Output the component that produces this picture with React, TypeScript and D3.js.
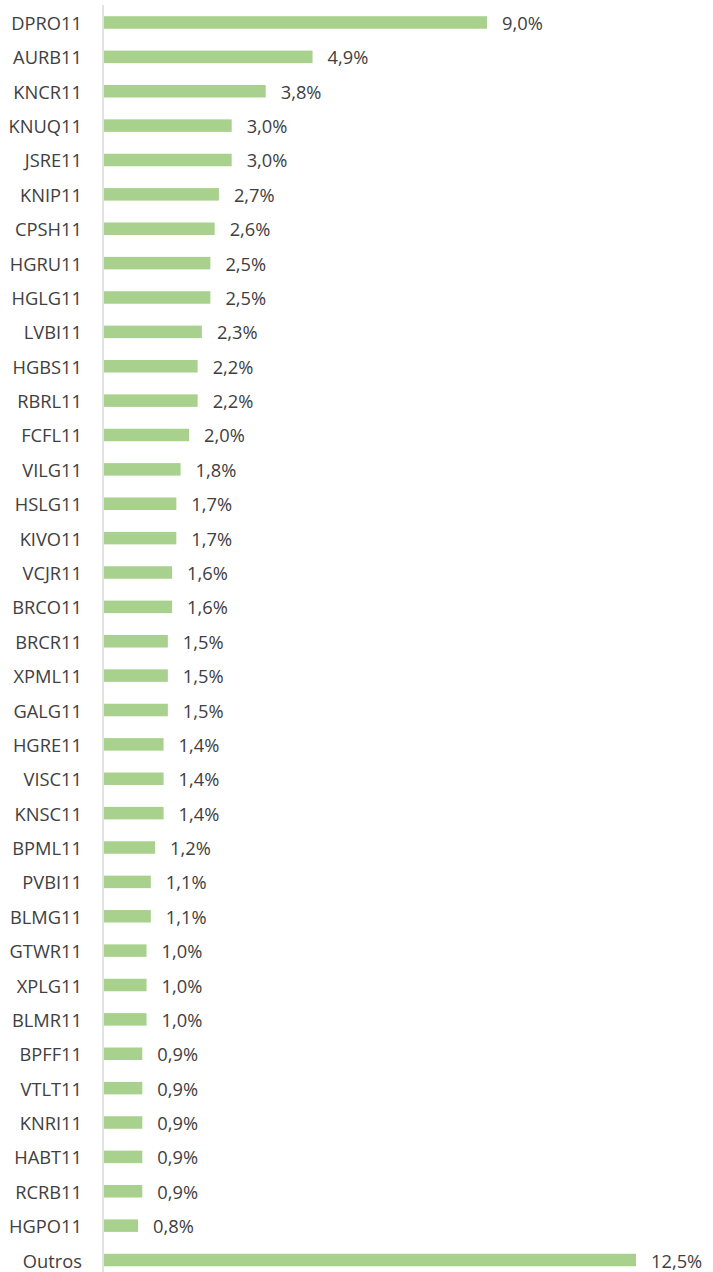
import React from 'react';
import { scaleBand, scaleLinear } from 'd3';

const WIDTH = 713;
const HEIGHT = 1272;

const tickers = [
  'DPRO11', 'AURB11', 'KNCR11', 'KNUQ11', 'JSRE11', 'KNIP11', 'CPSH11', 'HGRU11',
  'HGLG11', 'LVBI11', 'HGBS11', 'RBRL11', 'FCFL11', 'VILG11', 'HSLG11', 'KIVO11',
  'VCJR11', 'BRCO11', 'BRCR11', 'XPML11', 'GALG11', 'HGRE11', 'VISC11', 'KNSC11',
  'BPML11', 'PVBI11', 'BLMG11', 'GTWR11', 'XPLG11', 'BLMR11', 'BPFF11', 'VTLT11',
  'KNRI11', 'HABT11', 'RCRB11', 'HGPO11', 'Outros'
];

const weights = [
  9.0, 4.9, 3.8, 3.0, 3.0, 2.7, 2.6, 2.5,
  2.5, 2.3, 2.2, 2.2, 2.0, 1.8, 1.7, 1.7,
  1.6, 1.6, 1.5, 1.5, 1.5, 1.4, 1.4, 1.4,
  1.2, 1.1, 1.1, 1.0, 1.0, 1.0, 0.9, 0.9,
  0.9, 0.9, 0.9, 0.8, 12.5
];

const BAR_COLOR = '#a9d18e';
const TEXT_COLOR = '#404040';
const FONT = '"Open Sans", sans-serif';
const FONT_SIZE = 18.3;

const fmt = (v: number) => v.toFixed(1).replace('.', ',') + '%';

export default function App() {
  const x = scaleLinear().domain([0, 12.5]).range([104, 636]);
  const y = scaleBand<string>()
    .domain(tickers)
    .range([5.3, 1277.2])
    .paddingInner(0.636)
    .paddingOuter(0.318);

  return (
    <svg
      width={WIDTH}
      height={HEIGHT}
      style={{ position: 'absolute', left: 0, top: 0, background: '#fff' }}
      fontFamily={FONT}
    >
      {tickers.map((t, i) => {
        const yy = y(t) as number;
        const cy = yy + y.bandwidth() / 2;
        return (
          <g key={t}>
            <rect
              x={x(0)}
              y={yy}
              width={x(weights[i]) - x(0)}
              height={y.bandwidth()}
              fill={BAR_COLOR}
            />
            <text
              x={82}
              y={cy}
              textAnchor="end"
              dominantBaseline="central"
              fontSize={FONT_SIZE}
              fill={TEXT_COLOR}
            >
              {t}
            </text>
            <text
              x={x(weights[i]) + 15}
              y={cy}
              dominantBaseline="central"
              fontSize={FONT_SIZE}
              fill={TEXT_COLOR}
            >
              {fmt(weights[i])}
            </text>
          </g>
        );
      })}
      <line x1={103} x2={103} y1={5} y2={HEIGHT} stroke="#d9d9d9" strokeWidth={1.5} />
    </svg>
  );
}
